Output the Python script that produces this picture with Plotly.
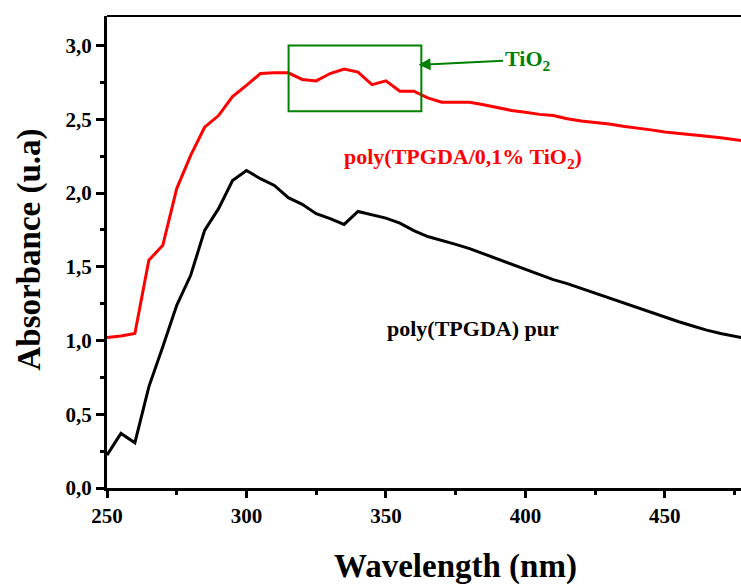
import plotly.graph_objects as go

wavelength = [250, 255, 260, 265, 270, 275, 280, 285, 290, 295, 300, 305, 310, 315, 320,
              325, 330, 335, 340, 345, 350, 355, 360, 365, 370, 375, 380, 385, 390, 395,
              400, 405, 410, 415, 420, 425, 430, 435, 440, 445, 450, 455, 460, 465, 470,
              475, 480]

abs_tio2 = [1.02, 1.03, 1.047, 1.544, 1.645, 2.03, 2.255, 2.446, 2.525, 2.654, 2.73, 2.81,
            2.815, 2.815, 2.77, 2.76, 2.81, 2.84, 2.82, 2.735, 2.76, 2.69, 2.69, 2.645,
            2.615, 2.615, 2.615, 2.598, 2.578, 2.56, 2.548, 2.533, 2.525, 2.503, 2.488,
            2.478, 2.468, 2.452, 2.442, 2.428, 2.413, 2.405, 2.396, 2.385, 2.374, 2.362, 2.35]

abs_pur = [0.223, 0.37, 0.307, 0.686, 0.957, 1.239, 1.442, 1.747, 1.894, 2.085, 2.153, 2.097,
           2.051, 1.968, 1.923, 1.86, 1.826, 1.787, 1.875, 1.855, 1.83, 1.796, 1.745, 1.705,
           1.68, 1.652, 1.623, 1.588, 1.552, 1.517, 1.482, 1.445, 1.413, 1.386, 1.353, 1.325,
           1.29, 1.256, 1.222, 1.19, 1.157, 1.127, 1.098, 1.07, 1.048, 1.03, 1.01]

x_ticks = [250, 300, 350, 400, 450]
y_ticks = [0.0, 0.5, 1.0, 1.5, 2.0, 2.5, 3.0]
y_tick_labels = ["0,0", "0,5", "1,0", "1,5", "2,0", "2,5", "3,0"]

FONT = "Liberation Serif, Times New Roman, serif"

fig = go.Figure()
fig.add_trace(go.Scatter(x=wavelength, y=abs_tio2, mode="lines",
                         line=dict(color="#FF0000", width=3), showlegend=False))
fig.add_trace(go.Scatter(x=wavelength, y=abs_pur, mode="lines",
                         line=dict(color="#000000", width=3), showlegend=False))

# Green highlight box
fig.add_shape(type="rect", x0=315.1, x1=362.7, y0=2.555, y1=3.0, xref="x", yref="y",
              line=dict(color="#008000", width=2), fillcolor="rgba(0,0,0,0)")

# Top frame line
fig.add_shape(type="line", xref="paper", yref="paper", x0=0, x1=1, y0=1, y1=1,
              line=dict(color="black", width=2))

# TiO2 arrow annotation
fig.add_annotation(x=361.7, y=2.869, xref="x", yref="y",
                   ax=400.8, ay=2.905, axref="x", ayref="y",
                   text="TiO<sub>2</sub>", showarrow=True,
                   arrowhead=2, arrowsize=1.2, arrowwidth=2, arrowcolor="#008000",
                   font=dict(family=FONT, size=22, color="#008000", weight="bold"))

fig.add_annotation(x=377.5, y=2.235, xref="x", yref="y", showarrow=False,
                   text="poly(TPGDA/0,1% TiO<sub>2</sub>)",
                   font=dict(family=FONT, size=22, color="#FF0000", weight="bold"))

fig.add_annotation(x=381.1, y=1.083, xref="x", yref="y", showarrow=False,
                   text="poly(TPGDA) pur",
                   font=dict(family=FONT, size=22, color="#000000", weight="bold"))

# Axis titles
fig.add_annotation(x=0.55, y=-0.167, xref="paper", yref="paper", showarrow=False,
                   text="Wavelength (nm)", xanchor="center", yanchor="middle",
                   font=dict(family=FONT, size=33, color="black", weight="bold"))
fig.add_annotation(x=-0.1225, y=0.506, xref="paper", yref="paper", showarrow=False,
                   text="Absorbance (u.a)", textangle=-90, xanchor="center", yanchor="middle",
                   font=dict(family=FONT, size=33, color="black", weight="bold"))

fig.update_layout(
    width=741, height=586,
    margin=dict(l=107, r=0, t=16, b=98),
    paper_bgcolor="white", plot_bgcolor="white",
    xaxis=dict(range=[250, 477.3], tickmode="array", tickvals=x_ticks,
               ticktext=[str(v) for v in x_ticks],
               ticks="outside", ticklen=7, tickwidth=3, tickcolor="black",
               showline=True, linewidth=3, linecolor="black",
               showgrid=False, zeroline=False,
               tickfont=dict(family=FONT, size=21, color="black", weight="bold"),
               minor=dict(dtick=25, tick0=250, ticks="outside", ticklen=4, tickwidth=3,
                          tickcolor="black", showgrid=False)),
    yaxis=dict(range=[0, 3.2], tickmode="array", tickvals=y_ticks, ticktext=y_tick_labels,
               ticks="outside", ticklen=8, tickwidth=3, tickcolor="black",
               showline=True, linewidth=3, linecolor="black",
               showgrid=False, zeroline=False,
               tickfont=dict(family=FONT, size=21, color="black", weight="bold"),
               minor=dict(dtick=0.25, tick0=0, ticks="outside", ticklen=4, tickwidth=3,
                          tickcolor="black", showgrid=False)),
)

# Remove the default page margin so the figure sits at the window's top-left corner
fig.write_html("out.html",
               config={"displayModeBar": False},
               post_script="document.body.style.margin='0';document.body.style.overflow='hidden';")
